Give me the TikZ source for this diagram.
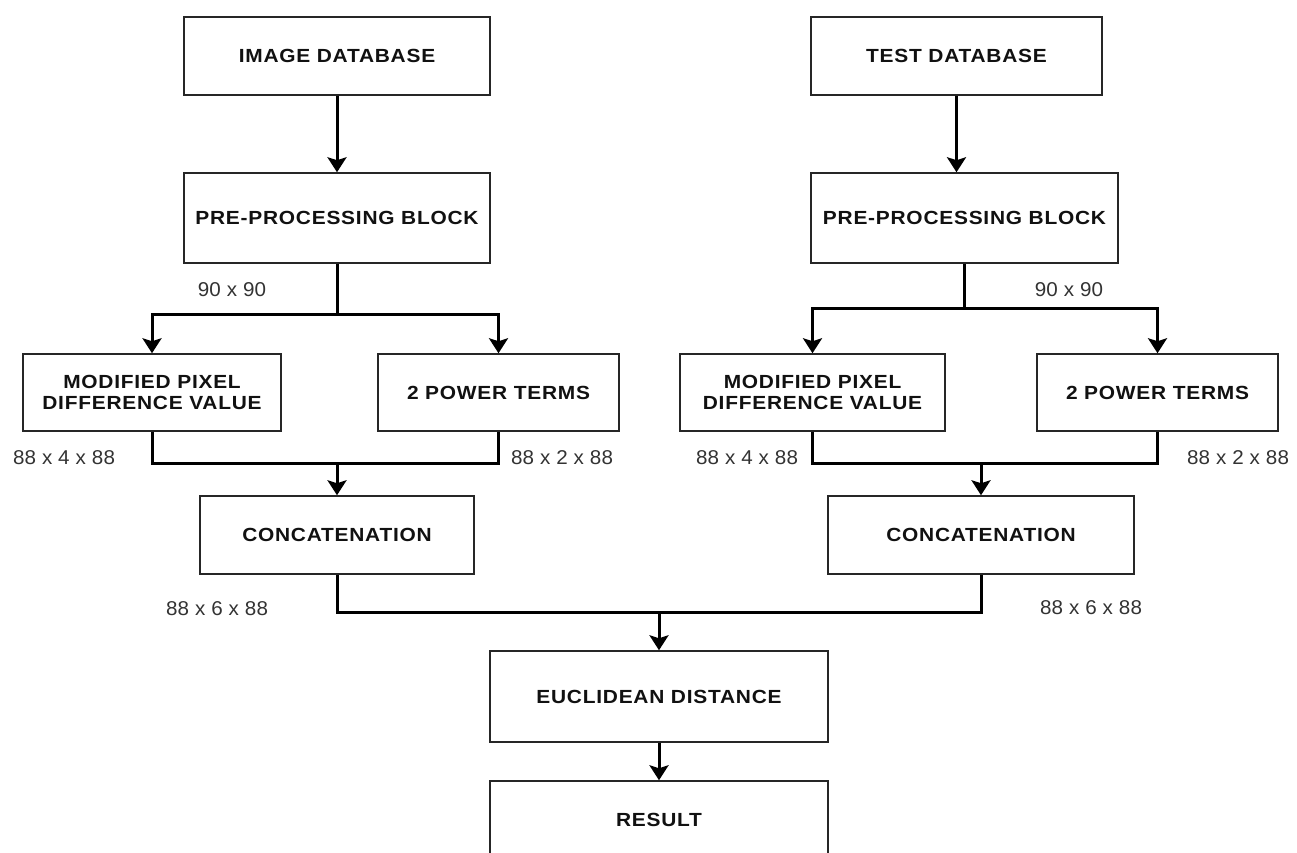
\documentclass[tikz,border=0pt]{standalone}
\usepackage{fontspec}
\setmainfont{Liberation Sans}
\newfontfamily\boxfont[LetterSpace=4,FakeStretch=1.1]{Liberation Sans}
\newfontfamily\labfont[LetterSpace=1,FakeStretch=1.03]{Liberation Sans}
\usetikzlibrary{arrows.meta}
\definecolor{boxtext}{HTML}{111111}
\definecolor{labtext}{HTML}{333333}
\tikzset{
  blk/.style={draw=black!85, line width=1.5pt, fill=white, align=center, inner sep=0pt,
    font=\boxfont\bfseries\fontsize{19}{21}\selectfont, text=boxtext},
  dimlabel/.style={inner sep=0pt, font=\labfont\fontsize{20}{22}\selectfont, text=labtext},
  wire/.style={draw=black, line width=3pt},
  arr/.style={wire, -{Stealth[length=15pt,width=19pt,inset=3pt]}},
}
\begin{document}
\begin{tikzpicture}[x=1pt,y=-1pt]
\useasboundingbox (0,0) rectangle (1297,853);
\clip (0,0) rectangle (1297,853);
% boxes
\node[blk, minimum width=306, minimum height=78] (imgdb) at (337,56) {IMAGE DATABASE};
\node[blk, minimum width=306, minimum height=90] (preL) at (337,218) {PRE-PROCESSING BLOCK};
\node[blk, minimum width=258, minimum height=77] (modL) at (152,392.5) {MODIFIED PIXEL\\DIFFERENCE VALUE};
\node[blk, minimum width=241, minimum height=77] (powL) at (498.5,392.5) {2 POWER TERMS};
\node[blk, minimum width=274, minimum height=78] (catL) at (337,535) {CONCATENATION};
\node[blk, minimum width=291, minimum height=78] (testdb) at (956.5,56) {TEST DATABASE};
\node[blk, minimum width=307, minimum height=90] (preR) at (964.5,218) {PRE-PROCESSING BLOCK};
\node[blk, minimum width=265, minimum height=77] (modR) at (812.5,392.5) {MODIFIED PIXEL\\DIFFERENCE VALUE};
\node[blk, minimum width=241, minimum height=77] (powR) at (1157.5,392.5) {2 POWER TERMS};
\node[blk, minimum width=306, minimum height=78] (catR) at (981,535) {CONCATENATION};
\node[blk, minimum width=338, minimum height=91] (euc) at (659,696.5) {EUCLIDEAN DISTANCE};
\node[blk, minimum width=338, minimum height=78] (res) at (659,820) {RESULT};
\draw[draw=black!85, line width=1.5pt] (res.south west) -- ++(0,60);
\draw[draw=black!85, line width=1.5pt] (res.south east) -- ++(0,60);
% junction coordinates
\coordinate (splitL) at (337,314);
\coordinate (splitR) at (964.5,308);
\coordinate (mergeL) at (337,463);
\coordinate (mergeR) at (981,463);
\coordinate (mergeB) at (659,612);
% connectors
\draw[arr] (imgdb) -- (preL);
\draw[arr] (testdb.south) -- (testdb.south |- preR.north);
\draw[wire] (preL.south) -- (splitL);
\draw[arr] (splitL) -| (modL.north);
\draw[arr] (splitL) -| (powL.north);
\draw[wire] (preR.south) -- (splitR);
\draw[arr] (splitR) -| (modR.north);
\draw[arr] (splitR) -| (powR.north);
\draw[wire] (modL.south) |- (mergeL) -| (powL.south);
\draw[arr] (mergeL) -- (catL.north);
\draw[wire] (modR.south) |- (mergeR) -| (powR.south);
\draw[arr] (mergeR) -- (catR.north);
\draw[wire] (catL.south) |- (mergeB) -| (catR.south);
\draw[arr] (mergeB) -- (euc.north);
\draw[arr] (euc) -- (res);
% dimension labels
\node[dimlabel] (d1) at (232,290) {90 x 90};
\node[dimlabel] (d2) at (1069,290) {90 x 90};
\node[dimlabel] (d3) at (64,458) {88 x 4 x 88};
\node[dimlabel] (d4) at (562,458) {88 x 2 x 88};
\node[dimlabel] (d5) at (747,458) {88 x 4 x 88};
\node[dimlabel] (d6) at (1238,458) {88 x 2 x 88};
\node[dimlabel] (d7) at (217,609) {88 x 6 x 88};
\node[dimlabel] (d8) at (1091,608) {88 x 6 x 88};
\end{tikzpicture}
\end{document}
